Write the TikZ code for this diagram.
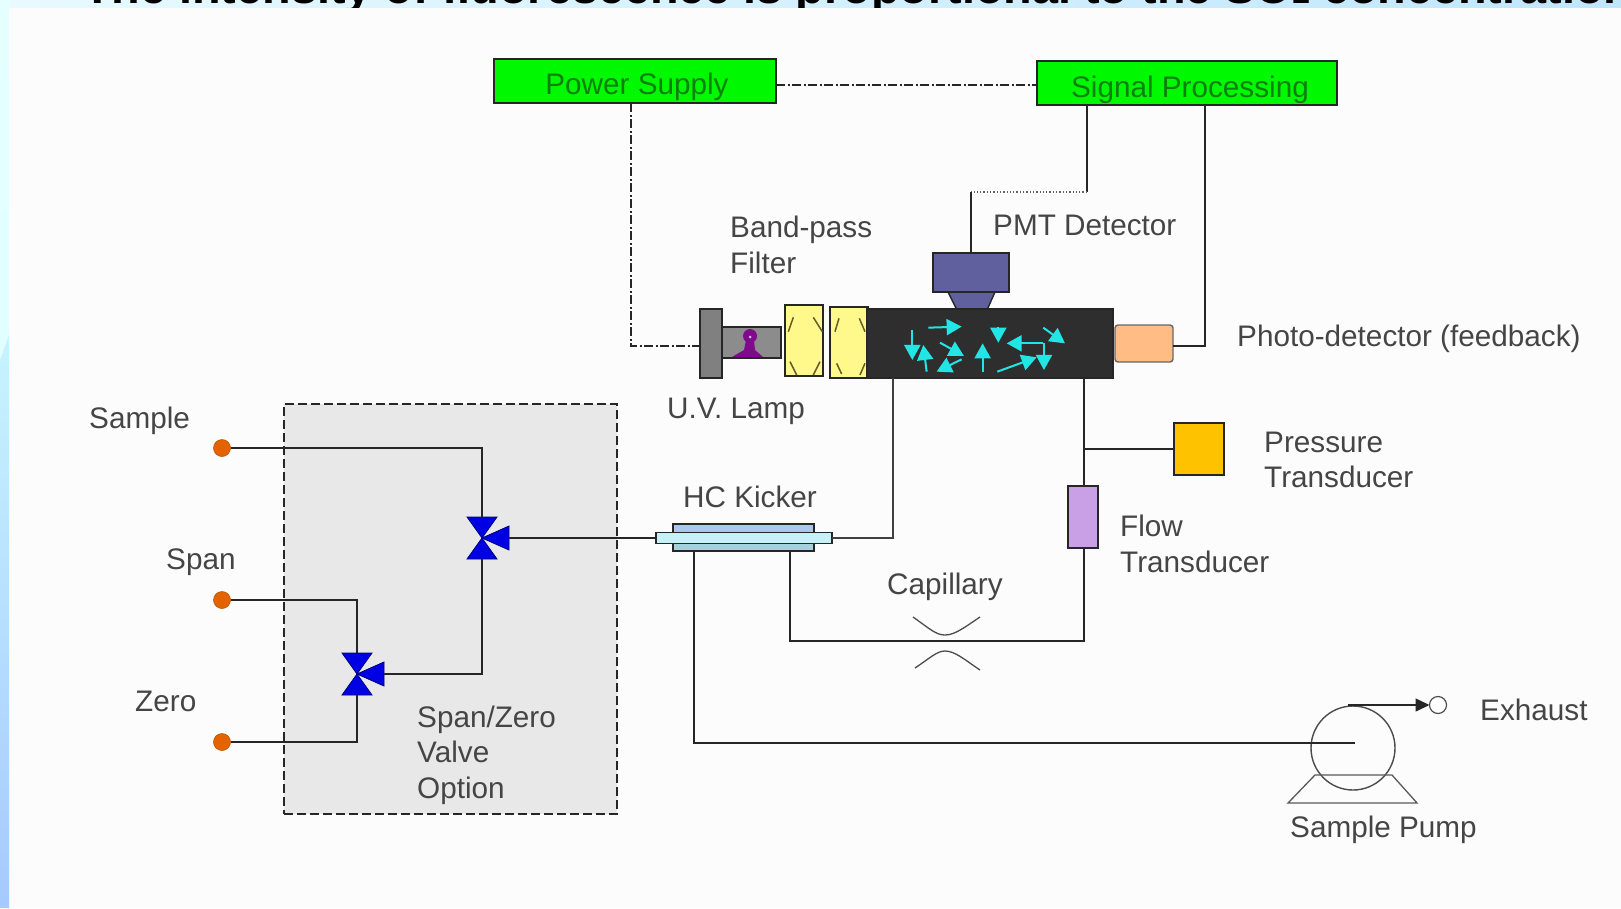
\documentclass[tikz,border=0pt]{standalone}
\usepackage{fontspec}
\setmainfont{Liberation Sans}
\usetikzlibrary{arrows.meta,calc}
\definecolor{txt}{HTML}{454545}
\definecolor{pmtcol}{HTML}{60609E}
\definecolor{gascol}{HTML}{22E6E6}
\definecolor{lampcol}{HTML}{800A8C}
\definecolor{flowcol}{HTML}{C9A0E6}
\definecolor{greenfill}{HTML}{00F800}
\definecolor{greentext}{HTML}{0E800E}
\definecolor{kicktop}{HTML}{A8C8F0}
\definecolor{kickbot}{HTML}{A8D0DC}
\definecolor{kickmid}{HTML}{C8F0F8}
\definecolor{stripL}{HTML}{E8FAFF}
\definecolor{stripR}{HTML}{C0E6FC}
\tikzset{
  wire/.style={draw=black!85,line width=1.5pt},
  ctrl/.style={draw=black!85,line width=1.3pt,dash pattern=on 9pt off 2.5pt on 2pt off 2.5pt},
  box/.style={draw=black!85,line width=1.4pt,inner sep=0pt,outer sep=0pt},
  lbl/.style={anchor=west,inner sep=0pt,text=txt,align=left,font=\fontsize{29.7}{35.5}\selectfont},
  onelbl/.style={lbl,text height=23pt,text depth=3pt},
  greenbox/.style={box,fill=greenfill,text=greentext,text height=33pt,text depth=6pt,font=\fontsize{29.7}{34}\selectfont},
  dot/.style={circle,fill=orange!85!red!90!black,draw=orange!70!black,line width=.6pt,minimum size=17pt,inner sep=0pt,outer sep=0pt},
  gas/.style={draw=gascol,line width=2pt,-{Triangle[length=15pt,width=16pt]}},
  lensmark/.style={draw=olive!60!black,line width=1.5pt},
  valvefill/.style={fill=blue!90!black,draw=blue!50!black,line width=.8pt}
}
\newcommand{\valvesym}[1]{%
  \fill[valvefill] ($(#1)+(-15,-21)$) -- ($(#1)+(15,-21)$) -- (#1) -- cycle;
  \fill[valvefill] ($(#1)+(-15,21)$) -- ($(#1)+(15,21)$) -- (#1) -- cycle;
  \fill[valvefill] (#1) -- ($(#1)+(27,-12)$) -- ($(#1)+(27,12)$) -- cycle;
}
\begin{document}
\begin{tikzpicture}[x=1pt,y=-1pt]
\useasboundingbox (0,0) rectangle (1621,908);
% background
\fill[white!99!black] (0,0) rectangle (1621,908);
\shade[left color=stripL,right color=stripR] (0,0) rectangle (1621,7);
\shade[top color=cyan!10!white,bottom color=cyan!12!white] (0,0) rectangle (9,360);
\shade[top color=blue!20!cyan!22!white,bottom color=cyan!40!blue!35!white] (0,360) -- (9,335) -- (9,908) -- (0,908) -- cycle;
\begin{scope}
\clip (0,0) rectangle (1621,7);
\node[anchor=base west,inner sep=0pt,font=\bfseries\fontsize{46.8}{50}\selectfont] (title) at (83,3) {The intensity of fluorescence is proportional to the SO{\fontsize{32}{34}\selectfont 2} concentration};
\end{scope}

% span/zero enclosure
\node[box,dash pattern=on 9pt off 4pt,fill=black!9,minimum width=333pt,minimum height=410pt] (encl) at (450.5,609) {};

% main boxes
\node[greenbox,minimum width=282pt,minimum height=44pt] (power) at (635,81) {\hspace{4pt}Power Supply};
\node[greenbox,minimum width=300pt,minimum height=44pt,text height=35pt] (signal) at (1187,83) {\hspace{6pt}Signal Processing};

% PMT
\draw[box,fill=pmtcol] (948,292) -- (995,292) -- (987,310) -- (957,310) -- cycle;
\node[box,fill=pmtcol,minimum width=76pt,minimum height=39pt] (pmt) at (971,272.5) {};

% lamp
\node[box,fill=black!45,minimum width=59pt,minimum height=31pt] (tube) at (751.5,342.5) {};
\node[box,fill=black!50,minimum width=22pt,minimum height=69pt] (base) at (711,343.5) {};
\fill[lampcol] (750,336) circle (7pt);
\fill[lampcol] (746,340) -- (754,340) -- (755,350) -- (763,357) -- (732,357) -- (744,350) -- cycle;
\fill[lampcol!30!white] (750,337) circle (1.5pt);

% filters
\node[box,fill=yellow!45!white,minimum width=38pt,minimum height=71pt] (filtA) at (804,340.5) {};
\node[box,fill=yellow!45!white,minimum width=38pt,minimum height=71pt] (filtB) at (849,342.5) {};

% chamber
\node[box,fill=black!82,minimum width=246pt,minimum height=69pt] (cell) at (990,343.5) {};
\draw[line width=1.4pt,black!85] (830,307) -- (830,378);

% detector
\node[box,fill=orange!45!white!95!red,draw=black!60,rounded corners=3pt,minimum width=58pt,minimum height=37pt] (photo) at (1144,343.5) {};

% zoom-coordinate details
\begin{scope}[shift={(660,230)},x=.3333pt,y=-.3333pt]
\foreach \a/\b/\c/\d in {385/305/400/262,460/262/487/305,390/395/410/435,480/395/460/435,525/305/537/265,598/265/615/305,530/400/545/432,615/400/600/435}
  \draw[lensmark] (\a,\b) -- (\c,\d);
\foreach \a/\b/\c/\d in {805/293/905/290,757/300/757/390,800/425/790/345,840/338/912/378,905/388/830/425,968/425/968/340,1015/292/1015/338,1150/340/1040/340,1150/293/1215/340,1012/425/1130/382}
  \draw[gas] (\a,\b) -- (\c,\d);
\draw[gas] (1152,340) -- (1152,420);
\end{scope}

% kicker
\fill[kicktop] (673,524) rectangle (814,538);
\fill[kickbot] (673,538) rectangle (814,551);
\node[box,minimum width=141pt,minimum height=27pt] (kickOuter) at (743.5,537.5) {};
\node[box,fill=kickmid,minimum width=176pt,minimum height=11pt] (kick) at (744,538) {};

% transducers
\node[box,fill=orange!40!yellow!95!red,minimum width=50pt,minimum height=52pt] (press) at (1199,449) {};
\node[box,fill=flowcol,minimum width=30pt,minimum height=62pt] (flow) at (1083,517) {};

% valves
\coordinate (vA) at (482,538);
\coordinate (vB) at (357,674);
\coordinate (vAr) at (509,538);
\coordinate (vBr) at (384,674);
\valvesym{vA}
\valvesym{vB}

% inlets
\node[dot] (sample) at (222,448) {};
\node[dot] (span) at (222,600) {};
\node[dot] (zero) at (222,742) {};

% pump
\node[circle,draw=black!70,line width=1.4pt,minimum size=84pt,inner sep=0pt,outer sep=0pt] (pump) at (1353,748) {};
\draw[draw=black!65,line width=1.3pt] (1315,775) -- (1392,775) -- (1417,803) -- (1288,803) -- cycle;
\coordinate (pumpin) at (1355,743);
\coordinate (pumpout) at (1348,705);
\node[circle,draw=black!70,fill=white,line width=1.2pt,minimum size=17pt,inner sep=0pt,outer sep=0pt] (exh) at (1438,705) {};

% capillary
\draw[draw=black!70,line width=1.3pt] (913,617) .. controls (930,629) and (936,635) .. (945,635) .. controls (955,635) and (965,627) .. (980,617);
\draw[draw=black!70,line width=1.3pt] (915,668) .. controls (930,658) and (937,651) .. (945,651) .. controls (955,651) and (965,660) .. (980,670);

% routing points
\coordinate (ctrlY) at (0,85);
\coordinate (pwDown) at (631,103);
\coordinate (lampIn) at (700,346);
\coordinate (sigA) at (1087,105);
\coordinate (sigB) at (1205,105);
\coordinate (cellL) at (893,378);
\coordinate (cellR) at (1084,378);
\coordinate (flowT) at (1084,486);
\coordinate (flowB) at (1084,548);
\coordinate (kickA) at (694,551);
\coordinate (kickB) at (790,551);
\coordinate (photoR) at (1173,346);

% connectors
\draw[ctrl] (power.east |- ctrlY) -- (signal.west |- ctrlY);
\draw[ctrl] (pwDown) |- (lampIn);
\draw[wire] (sigA) -- (1087,192);
\draw[black!60,line width=1.3pt,dotted] (1087,192) -- (971,192);
\draw[wire] (971,192) -- (pmt.north);
\draw[wire] (sigB) |- (photoR);
\draw[black!75,line width=1.9pt] (cellL) |- (kick.east);
\draw[wire] (vAr) -- (kick.west);
\draw[wire] (sample.east) -| ($(vA)+(0,-21)$);
\draw[wire] (span.east) -| ($(vB)+(0,-21)$);
\draw[wire] (zero.east) -| ($(vB)+(0,21)$);
\draw[wire] (vBr) -| ($(vA)+(0,21)$);
\draw[wire] (cellR) -- (flowT);
\draw[wire] (cellR |- press.west) -- (press.west);
\draw[wire] (flowB) |- (kickB |- 0,641) -- (kickB);
\draw[wire] (kickA) |- (pumpin);
\draw[wire,-{Triangle[length=14pt,width=13pt]}] (pumpout) -- (exh.west);

% labels
\node[onelbl] (lSample) at (89,418) {Sample};
\node[onelbl] (lSpan) at (166,559) {Span};
\node[onelbl] (lZero) at (135,701) {Zero};
\node[lbl] (lBand) at (730,245) {Band-pass\\Filter};
\node[onelbl] (lPMT) at (993,225) {PMT Detector};
\node[onelbl] (lPhoto) at (1237,336) {Photo-detector (feedback)};
\node[onelbl] (lUV) at (667,408) {U.V. Lamp};
\node[onelbl] (lHC) at (683,497) {HC Kicker};
\node[lbl] (lPress) at (1264,460) {Pressure\\Transducer};
\node[lbl] (lFlow) at (1120,544) {Flow\\Transducer};
\node[onelbl] (lCap) at (887,584) {Capillary};
\node[lbl] (lValve) at (417,755) {Span/Zero\\Valve\\Option};
\node[onelbl] (lExh) at (1480,710) {Exhaust};
\node[onelbl] (lPump) at (1290,827) {Sample Pump};
\end{tikzpicture}
\end{document}
